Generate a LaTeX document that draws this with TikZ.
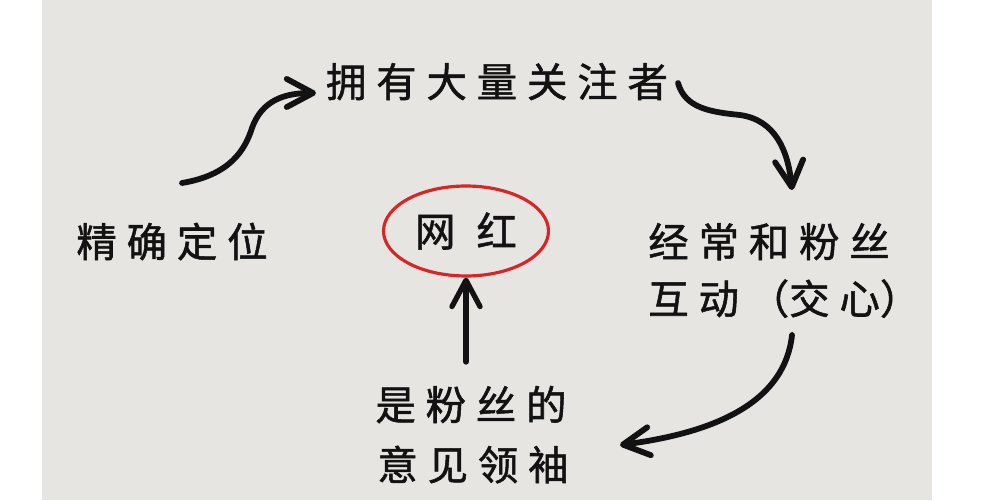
\documentclass[tikz,border=0pt]{standalone}
\usepackage{fontspec}
\newfontfamily\cjk[FakeBold=1.3]{Noto Sans CJK SC}
\usetikzlibrary{arrows.meta,shapes.geometric}
\definecolor{paper}{RGB}{231,229,225}
\definecolor{ringred}{RGB}{214,38,40}
\definecolor{ink}{RGB}{18,18,18}
\newcommand\gp{\hspace{5.6pt}}
\newcommand\gw{\hspace{12pt}}
\begin{document}
\begin{tikzpicture}[x=0.02cm,y=-0.02cm,
  lbl/.style={font=\cjk\fontsize{23}{28}\selectfont, text=ink, inner sep=0pt},
  arr/.style={draw=ink, line width=3.3pt, line cap=round,
    -{Straight Barb[length=15pt,width=16pt,line cap=round,line join=round]}},
  ring/.style={ellipse, draw=ringred, line width=1.8pt, minimum width=3.3cm,
    minimum height=1.8cm, inner sep=0pt}]
\useasboundingbox (0,0) rectangle (1000,500);
\fill[white] (0,0) rectangle (1000,500);
\fill[paper] (42,0) rectangle (932,500);

\node[lbl, anchor=base] (ywn) at (497,97) {拥\gp 有\gp 大\gp 量\gp 关\gp 注\gp 者};
\node[lbl, anchor=base] (jq) at (172,257) {精\gp 确\gp 定\gp 位};
\node[lbl, anchor=base west] (jc1) at (648,257) {经\gp 常\gp 和\gp 粉\gp 丝};
\node[lbl, anchor=base west] (jc2) at (648,314) {互\gp 动\gp （交\gp 心）};
\node[lbl, anchor=base] (sf1) at (471,420) {是\gp 粉\gp 丝\gp 的};
\node[lbl, anchor=base] (sf2) at (473,480) {意\gp 见\gp 领\gp 袖};
\node[lbl, ring] (wh) at (466,231) {网\gw 红};

\coordinate (a1s) at (182,183);
\coordinate (a1e) at (316,93);
\coordinate (a2s) at (678,83);
\coordinate (a2e) at (792,190);
\coordinate (a3s) at (792,335);
\coordinate (a3e) at (620,445);
\coordinate (a4s) at (466,362);

\draw[arr] (a1s) .. controls (230,175) and (245,150) .. (252,128)
  .. controls (262,100) and (285,93) .. (a1e);
\draw[arr] (a2s) .. controls (685,108) and (710,112) .. (740,115)
  .. controls (775,120) and (788,150) .. (a2e);
\draw[arr] (a3s) .. controls (785,400) and (720,432) .. (a3e);
\draw[arr, line width=3pt] (a4s) -- (wh.south);
\end{tikzpicture}
\end{document}
